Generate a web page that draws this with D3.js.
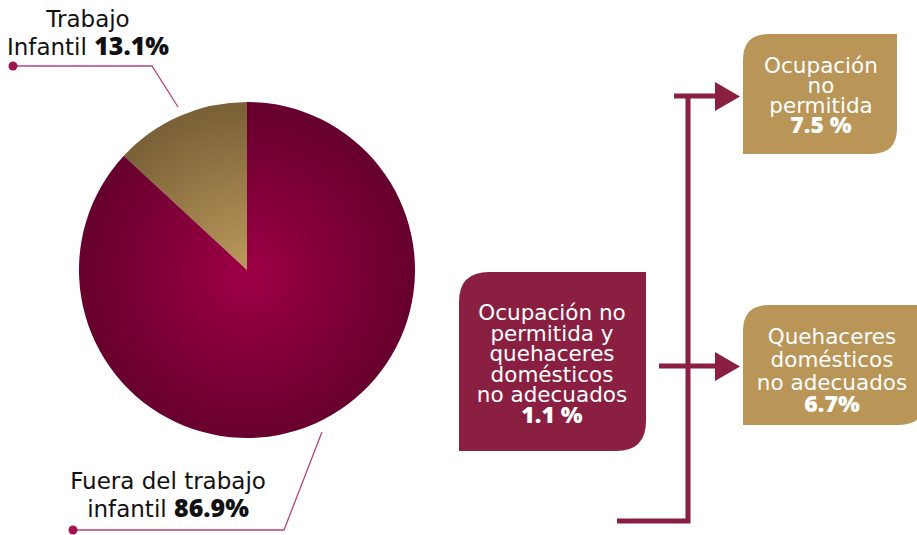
<!DOCTYPE html>
<html><head><meta charset="utf-8">
<script src="https://cdn.jsdelivr.net/npm/d3@7"></script>
<style>
html,body{margin:0;padding:0;background:#fff;}
svg{display:block;font-family:"DejaVu Sans",sans-serif;}
</style></head>
<body>
<svg id="chart" width="917" height="535"></svg>
<script>
// ---- data ----
const pieCategories = ["Trabajo Infantil", "Fuera del trabajo infantil"];
const pieValues = [13.1, 86.9];
const pieLabelLines = [["Trabajo", "Infantil "], ["Fuera del trabajo", "infantil "]];
const pieValueLabels = ["13.1%", "86.9%"];

const breakdownCategories = ["Ocupación no permitida", "Quehaceres domésticos no adecuados", "Ocupación no permitida y quehaceres domésticos no adecuados"];
const breakdownValues = [7.5, 6.7, 1.1];
const breakdownLines = [["Ocupación", "no", "permitida"], ["Quehaceres", "domésticos", "no adecuados"], ["Ocupación no", "permitida y", "quehaceres", "domésticos", "no adecuados"]];
const breakdownValueLabels = ["7.5 %", "6.7%", "1.1 %"];

// ---- styles ----
const crimson = "#8b1f42";
const gold = "#b99558";
const svg = d3.select("#chart");
const defs = svg.append("defs");

const cx = 247, cy = 270, R = 168;

function radial(id, c0, c1) {
  const g = defs.append("radialGradient").attr("id", id)
    .attr("gradientUnits", "userSpaceOnUse")
    .attr("cx", 0).attr("cy", 5).attr("r", R);
  g.append("stop").attr("offset", "0%").attr("stop-color", c0);
  g.append("stop").attr("offset", "100%").attr("stop-color", c1);
}
radial("gGold", "#be9b5c", "#7a6137");
radial("gCrim", "#9e0045", "#66002c");

// ---- pie ----
const share0 = pieValues[0] / d3.sum(pieValues);
const pie = d3.pie().sort(null).value(d => d)
  .startAngle(-share0 * 2 * Math.PI)
  .endAngle(2 * Math.PI - share0 * 2 * Math.PI);
const arc = d3.arc().innerRadius(0).outerRadius(R);
const fills = ["url(#gGold)", "url(#gCrim)"];
svg.append("g").attr("transform", `translate(${cx},${cy})`)
  .selectAll("path").data(pie(pieValues)).join("path")
  .attr("d", arc).attr("fill", (d, i) => fills[i]);

// ---- pie leader lines ----
const leaderColor = "#b9457a";
const lead = svg.append("g");
lead.append("path").attr("d", "M13,66 H152 L178,107")
  .attr("fill", "none").attr("stroke", leaderColor).attr("stroke-width", 1.3);
lead.append("circle").attr("cx", 13).attr("cy", 66).attr("r", 4.5).attr("fill", "#a3134f");
lead.append("path").attr("d", "M73,530 H284 L322,432")
  .attr("fill", "none").attr("stroke", leaderColor).attr("stroke-width", 1.3);
lead.append("circle").attr("cx", 73).attr("cy", 530).attr("r", 4.5).attr("fill", "#a3134f");

// pie labels
const pieLabelPos = [{x: 88, y: 27}, {x: 168, y: 489}];
pieLabelLines.forEach((lines, i) => {
  const t = svg.append("text").attr("text-anchor", "middle")
    .attr("font-size", 23).attr("fill", "#111");
  t.append("tspan").attr("x", pieLabelPos[i].x).attr("y", pieLabelPos[i].y).text(lines[0]);
  const t2 = t.append("tspan").attr("x", pieLabelPos[i].x).attr("y", pieLabelPos[i].y + 27.5);
  t2.append("tspan").text(lines[1]);
  t2.append("tspan").attr("font-family", "'Open Sans',sans-serif").attr("font-size", 25)
    .attr("font-weight", 800).text(pieValueLabels[i]);
});

// ---- boxes ----
function boxPath(x, y, w, h, r) {
  return `M${x},${y + r} Q${x},${y} ${x + r},${y} H${x + w} V${y + h - r} Q${x + w},${y + h} ${x + w - r},${y + h} H${x} Z`;
}
const boxes = [
  {x: 743, y: 34, w: 154, h: 120, r: 26, fill: gold, tx: 821, ty: 73, lh: 20, fs: 21.5},
  {x: 743, y: 305, w: 182, h: 120, r: 26, fill: gold, tx: 832, ty: 344, lh: 22.8, fs: 21.5},
  {x: 459, y: 272, w: 187, h: 179, r: 30, fill: crimson, tx: 552, ty: 320, lh: 20.6, fs: 21.5}
];
boxes.forEach((b, i) => {
  svg.append("path").attr("d", boxPath(b.x, b.y, b.w, b.h, b.r)).attr("fill", b.fill);
  const t = svg.append("text").attr("text-anchor", "middle").attr("fill", "#fff")
    .attr("font-size", b.fs);
  breakdownLines[i].forEach((ln, j) => {
    t.append("tspan").attr("x", b.tx).attr("y", b.ty + j * b.lh).text(ln);
  });
  t.append("tspan").attr("x", b.tx).attr("y", b.ty + breakdownLines[i].length * b.lh)
    .attr("font-family", "'Open Sans',sans-serif").attr("font-size", 23)
    .attr("font-weight", 800).text(breakdownValueLabels[i]);
});

// ---- connector ----
const conn = svg.append("g").attr("stroke", crimson).attr("stroke-width", 5).attr("fill", "none");
conn.append("path").attr("d", "M688,96 V521 H617");
conn.append("path").attr("d", "M674,96 H718");
conn.append("path").attr("d", "M659,366 H718");
const heads = svg.append("g").attr("fill", crimson);
heads.append("path").attr("d", "M715,82 L740,96.5 L715,111 Z");
heads.append("path").attr("d", "M715,352 L740,366.5 L715,381 Z");
</script>
</body></html>
